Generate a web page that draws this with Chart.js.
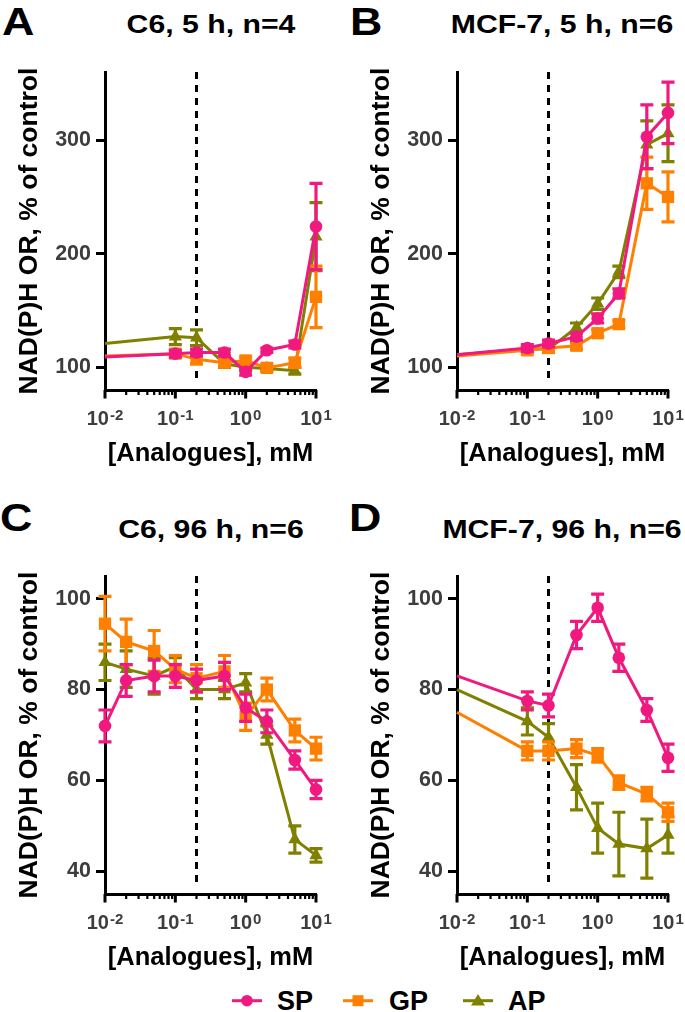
<!DOCTYPE html>
<html><head><meta charset="utf-8">
<script src="https://cdn.jsdelivr.net/npm/chart.js@4.4.1/dist/chart.umd.min.js"></script>
<style>
html,body{margin:0;padding:0;background:#fff;width:685px;height:1012px;overflow:hidden;position:relative;font-family:'Liberation Sans',Arial,sans-serif;}
canvas{position:absolute;}
.t{position:absolute;font-weight:bold;white-space:nowrap;line-height:1;color:#000;}
.letter{font-size:38px;transform:scaleX(1.18);transform-origin:left top;}
.title{font-size:26.5px;width:400px;text-align:center;transform:scaleX(1.14);transform-origin:center top;}
.leg{font-size:27px;}
</style></head>
<body>
<div class="t letter" style="left:1.5px;top:2.8px">A</div>
<div class="t letter" style="left:350px;top:2.8px">B</div>
<div class="t letter" style="left:0px;top:499.3px">C</div>
<div class="t letter" style="left:348.5px;top:499.3px">D</div>
<div class="t title" id="tA" style="left:10.5px;top:10.9px"></div>
<div class="t title" id="tB" style="left:362px;top:10.9px"></div>
<div class="t title" id="tC" style="left:10.5px;top:515.9px"></div>
<div class="t title" id="tD" style="left:362px;top:515.9px"></div>

<canvas id="cA" width="334" height="440" style="left:0px;top:40px"></canvas>
<canvas id="cB" width="334" height="440" style="left:352px;top:40px"></canvas>
<canvas id="cC" width="334" height="440" style="left:0px;top:544px"></canvas>
<canvas id="cD" width="334" height="440" style="left:352px;top:544px"></canvas>

<svg style="position:absolute;left:0;top:985px" width="685" height="27">
  <line x1="232" y1="15.7" x2="262" y2="15.7" stroke="#F0197F" stroke-width="3"/>
  <circle cx="247" cy="15.7" r="5.8" fill="#F0197F"/>
  <line x1="343" y1="15.7" x2="373" y2="15.7" stroke="#FF8000" stroke-width="3"/>
  <rect x="352.5" y="10.2" width="11" height="11" fill="#FF8000"/>
  <line x1="463" y1="15.7" x2="493" y2="15.7" stroke="#808000" stroke-width="3"/>
  <polygon points="478,9 471,20.5 485,20.5" fill="#808000"/>
</svg>
<div class="t leg" id="l0" style="left:277px;top:988px"></div>
<div class="t leg" id="l1" style="left:389px;top:988px"></div>
<div class="t leg" id="l2" style="left:508px;top:988px"></div>

<script>
// ---------- data ----------
const seriesNames = ['SP', 'GP', 'AP'];
const seriesColors = ['#F0197F', '#FF8000', '#808000'];
const seriesMarkers = ['circle', 'rect', 'triangle'];
const xTitle = '[Analogues], mM';
const yTitle = 'NAD(P)H OR, % of control';
const xMin = 0.01, xMax = 10;
const xTickValues = [0.01, 0.1, 1, 10];
const xTickBase = '10';
const xTickExponents = ['-2', '-1', '0', '1'];
const dashDose = 0.2;

// Panel A: C6, 5 h
const titleA = 'C6, 5 h, n=4';
const doseA = [0.1, 0.2, 0.5, 1, 2, 5, 10];
const spA = [112, 113, 113, 96, 115, 120, 224];
const spA_sem = [3, 3, 3, 3, 2, 3, 38];
const spA_edge = 109;
const gpA = [112, 107, 104, 106, 99.5, 104, 162];
const gpA_sem = [3, 4, 3, 3, 3, 4, 27];
const gpA_edge = 110;
const apA = [127, 126, 103, 100, 99, 97, 215];
const apA_sem = [7, 7, 3, 3, 2, 3, 30];
const apA_edge = 121;
const yTicksAB = [100, 200, 300];
const yRangeAB = [80, 360];

// Panel B: MCF-7, 5 h
const titleB = 'MCF-7, 5 h, n=6';
const doseB = [0.1, 0.2, 0.5, 1, 2, 5, 10];
const spB = [117, 121, 127, 143, 165, 303, 324];
const spB_sem = [3, 3, 3, 4, 4, 28, 27];
const spB_edge = 111;
const gpB = [115, 117, 119, 130, 138, 262, 250];
const gpB_sem = [3, 3, 3, 3, 3, 23, 22];
const gpB_edge = 110;
const apB = [116, 116, 135, 156, 184, 296, 306];
const apB_sem = [2, 3, 4, 5, 5, 21, 25];
const apB_edge = 111;

// Panel C: C6, 96 h
const titleC = 'C6, 96 h, n=6';
const doseC = [0.01, 0.02, 0.05, 0.1, 0.2, 0.5, 1, 2, 5, 10];
const spC = [72, 82, 83, 83, 82, 83, 76, 73, 64.5, 58];
const spC_sem = [3.5, 3.5, 3.5, 2.5, 2.5, 3, 3, 2.5, 2, 2];
const gpC = [94.5, 90.5, 88.5, 84.5, 82.5, 84, 74, 80, 71, 67];
const gpC_sem = [6, 5, 4.5, 3, 3, 3.5, 3, 2.5, 2.5, 2.5];
const apC = [86, 84.5, 83, 85, 80, 80, 81.5, 70, 47, 43.5];
const apC_sem = [4, 4, 4, 2, 2, 2, 2, 2, 3, 1.5];
const yTicksCD = [40, 60, 80, 100];
const yRangeCD = [35, 105];

// Panel D: MCF-7, 96 h
const titleD = 'MCF-7, 96 h, n=6';
const doseD = [0.1, 0.2, 0.5, 1, 2, 5, 10];
const spD = [77.5, 76.5, 92, 98, 87, 75.5, 65];
const spD_sem = [2, 2.5, 3, 3, 3, 2.5, 3];
const spD_edge = 83;
const gpD = [66.5, 66.5, 67, 65.5, 59.5, 57, 53];
const gpD_sem = [2, 2, 2, 1.5, 1.5, 1.5, 2];
const gpD_edge = 75;
const apD = [73, 69.5, 58.5, 49.5, 46, 45, 48];
const apD_sem = [3, 3, 5, 5.5, 7, 6.5, 4];
const apD_edge = 80;

// ---------- text ----------
document.getElementById('tA').textContent = titleA;
document.getElementById('tB').textContent = titleB;
document.getElementById('tC').textContent = titleC;
document.getElementById('tD').textContent = titleD;
seriesNames.forEach((n, i) => document.getElementById('l' + i).textContent = n);

// ---------- chart ----------
const FONT = "'Liberation Sans', Arial, sans-serif";
Chart.defaults.font.family = FONT;
const markerRadius = {circle: 6.3, rect: 8.7, triangle: 7.6};

function buildPoints(dose, vals, sem, edge) {
  const pts = dose.map((d, i) => ({x: d, y: vals[i], e: sem[i]}));
  if (edge !== null && edge !== undefined) pts.unshift({x: xMin, y: edge, e: null, edge: true});
  return pts;
}

const panelPlugin = {
  id: 'panelExtras',
  beforeDatasetsDraw(chart) {
    const {ctx, chartArea, scales: {x}} = chart;
    const px = x.getPixelForValue(dashDose);
    ctx.save();
    ctx.strokeStyle = '#000';
    ctx.lineWidth = 3;
    ctx.setLineDash([7, 6]);
    ctx.beginPath();
    ctx.moveTo(px, chartArea.top);
    ctx.lineTo(px, chartArea.bottom - 8);
    ctx.stroke();
    ctx.restore();
  },
  afterDatasetDraw(chart, args) {
    const ds = chart.data.datasets[args.index];
    const meta = args.meta;
    const y = chart.scales.y;
    const ctx = chart.ctx;
    ctx.save();
    ctx.strokeStyle = ds.borderColor;
    ctx.lineWidth = 3.2;
    ctx.lineCap = 'butt';
    ds.data.forEach((p, i) => {
      if (p.e === null || p.e === undefined) return;
      const el = meta.data[i];
      const top = y.getPixelForValue(p.y + p.e);
      const bot = y.getPixelForValue(p.y - p.e);
      const cx = el.x, hw = 6.5;
      ctx.beginPath();
      ctx.moveTo(cx, top); ctx.lineTo(cx, bot);
      ctx.moveTo(cx - hw, top); ctx.lineTo(cx + hw, top);
      ctx.moveTo(cx - hw, bot); ctx.lineTo(cx + hw, bot);
      ctx.stroke();
    });
    ctx.restore();
  },
  afterDraw(chart) {
    const {ctx, chartArea, scales: {x}} = chart;
    const b = chartArea.bottom;
    ctx.save();
    ctx.strokeStyle = '#000';
    for (let d = Math.log10(xMin); d <= Math.log10(xMax); d++) {
      for (let m = 1; m <= 9; m++) {
        const v = m * Math.pow(10, d);
        if (v > xMax * 1.0001) break;
        const px = x.getPixelForValue(v);
        const major = m === 1;
        ctx.lineWidth = major ? 3 : 2.2;
        ctx.beginPath();
        ctx.moveTo(px, b);
        ctx.lineTo(px, b + (major ? 8.5 : 5));
        ctx.stroke();
      }
    }
    ctx.fillStyle = '#3d3d3d';
    ctx.textBaseline = 'alphabetic';
    ctx.textAlign = 'left';
    xTickValues.forEach((v, i) => {
      const px = x.getPixelForValue(v);
      ctx.font = 'bold 20px ' + FONT;
      const w1 = ctx.measureText(xTickBase).width;
      ctx.font = 'bold 15px ' + FONT;
      const w2 = ctx.measureText(xTickExponents[i]).width;
      const start = px - (w1 + 1 + w2) / 2;
      ctx.font = 'bold 20px ' + FONT;
      ctx.fillText(xTickBase, start, b + 35);
      ctx.font = 'bold 15px ' + FONT;
      ctx.fillText(xTickExponents[i], start + w1 + 1, b + 30);
    });
    ctx.restore();
  }
};

function makePanel(id, dose, series, yRange, yTicks) {
  const datasets = series.map((s, k) => ({
    label: seriesNames[k],
    data: buildPoints(dose, s.vals, s.sem, s.edge),
    borderColor: seriesColors[k],
    backgroundColor: seriesColors[k],
    pointBackgroundColor: seriesColors[k],
    pointBorderWidth: 0,
    pointStyle: seriesMarkers[k],
    pointRadius: (c) => (c.raw && c.raw.edge) ? 0 : markerRadius[seriesMarkers[k]],
    borderWidth: 3,
    tension: 0,
    clip: false
  }));
  return new Chart(document.getElementById(id), {
    type: 'line',
    data: {datasets},
    options: {
      responsive: false,
      animation: false,
      devicePixelRatio: 1,
      events: [],
      layout: {padding: {left: 0, top: 32, right: 18, bottom: 0}},
      plugins: {legend: {display: false}, tooltip: {enabled: false}},
      scales: {
        x: {
          type: 'logarithmic', min: xMin, max: xMax,
          grid: {display: true, drawOnChartArea: false, drawTicks: false},
          border: {display: true, color: '#000', width: 3},
          ticks: {display: false},
          title: {display: true, text: xTitle, color: '#000',
                  font: {size: 25.5, weight: 'bold', family: FONT},
                  padding: {top: 0, bottom: 11}},
          afterFit: (s) => { s.height = 90; }
        },
        y: {
          min: yRange[0], max: yRange[1],
          afterBuildTicks: (s) => { s.ticks = yTicks.map(v => ({value: v})); },
          grid: {display: true, drawOnChartArea: false, drawTicks: true, tickLength: 9, tickWidth: 3, tickColor: '#000'},
          border: {display: true, color: '#000', width: 3},
          ticks: {color: '#3d3d3d', padding: 5, font: {size: 21.5, weight: 'bold', family: FONT}},
          title: {display: true, text: yTitle, color: '#000',
                  font: {size: 26.5, weight: 'bold', family: FONT},
                  padding: {top: 14, bottom: 0}},
          afterFit: (s) => { s.width = 105; }
        }
      }
    },
    plugins: [panelPlugin]
  });
}

makePanel('cA', doseA, [
  {vals: spA, sem: spA_sem, edge: spA_edge},
  {vals: gpA, sem: gpA_sem, edge: gpA_edge},
  {vals: apA, sem: apA_sem, edge: apA_edge}
], yRangeAB, yTicksAB);
makePanel('cB', doseB, [
  {vals: spB, sem: spB_sem, edge: spB_edge},
  {vals: gpB, sem: gpB_sem, edge: gpB_edge},
  {vals: apB, sem: apB_sem, edge: apB_edge}
], yRangeAB, yTicksAB);
makePanel('cC', doseC, [
  {vals: spC, sem: spC_sem, edge: null},
  {vals: gpC, sem: gpC_sem, edge: null},
  {vals: apC, sem: apC_sem, edge: null}
], yRangeCD, yTicksCD);
makePanel('cD', doseD, [
  {vals: spD, sem: spD_sem, edge: spD_edge},
  {vals: gpD, sem: gpD_sem, edge: gpD_edge},
  {vals: apD, sem: apD_sem, edge: apD_edge}
], yRangeCD, yTicksCD);
</script>
</body></html>
